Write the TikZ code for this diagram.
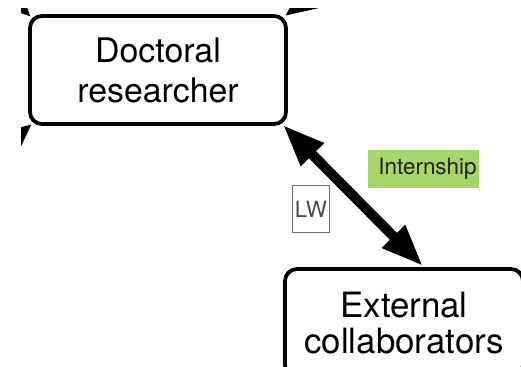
\documentclass[tikz,border=0pt]{standalone}
\usepackage{fontspec}
\setmainfont{TeX Gyre Heros}
\usetikzlibrary{arrows.meta}

\definecolor{internship}{RGB}{166,213,110}
\definecolor{tagtext}{RGB}{34,34,34}
\definecolor{lwgray}{RGB}{110,110,110}

\begin{document}
\begin{tikzpicture}[x=1bp,y=-1bp,
        actor/.style={draw,line width=3.8bp,rounded corners=12bp,align=center,inner sep=0pt},
        link/.style={line width=10bp,{Triangle[length=42bp,width=30bp]}-{Triangle[length=42bp,width=30bp]}},
        cutlink/.style={line width=9bp,-{Triangle[length=38bp,width=32bp]}},
        tag/.style={inner sep=0pt,font=\fontsize{22.5}{26}\selectfont}]

  %% Page, and the part of the picture that is kept
  \useasboundingbox (0,0) rectangle (521,366);
  \clip (21,8) rectangle (521,366);

  %% The two actors
  \node[actor,minimum width=256bp,minimum height=108bp,font=\fontsize{34}{40}\selectfont]
    (doc) at (158,70) {Doctoral\\researcher};
  \node[actor,minimum width=238bp,minimum height=108bp,font=\fontsize{35}{37}\selectfont]
    (ext) at (404,323) {External\\collaborators};

  %% Links coming from actors outside the view
  \coordinate (fromnw) at (-120,-132);
  \coordinate (fromne) at (443,-107);
  \coordinate (fromsw) at (-123,252);
  \draw[cutlink] (fromnw) -- ([shift={(3,3)}]doc.north west);
  \draw[cutlink] (fromne) -- ([shift={(-3,2)}]doc.north east);
  \draw[cutlink] (fromsw) -- ([shift={(4,-2)}]doc.south west);

  %% Link between researcher and collaborators
  \draw[link] ([shift={(-5,-1)}]doc.south east) -- ([shift={(19,-1)}]ext.north);

  %% Labels of the link
  \node[tag,fill=internship,text=tagtext,minimum width=111bp,minimum height=38bp]
    (intern) at (423.5,169) {\hspace*{8bp}Internship};
  \node[tag,draw=lwgray,line width=1.2bp,text=lwgray!70!black,minimum width=37bp,minimum height=47bp]
    (lw) at (311,209) {LW};

\end{tikzpicture}
\end{document}
